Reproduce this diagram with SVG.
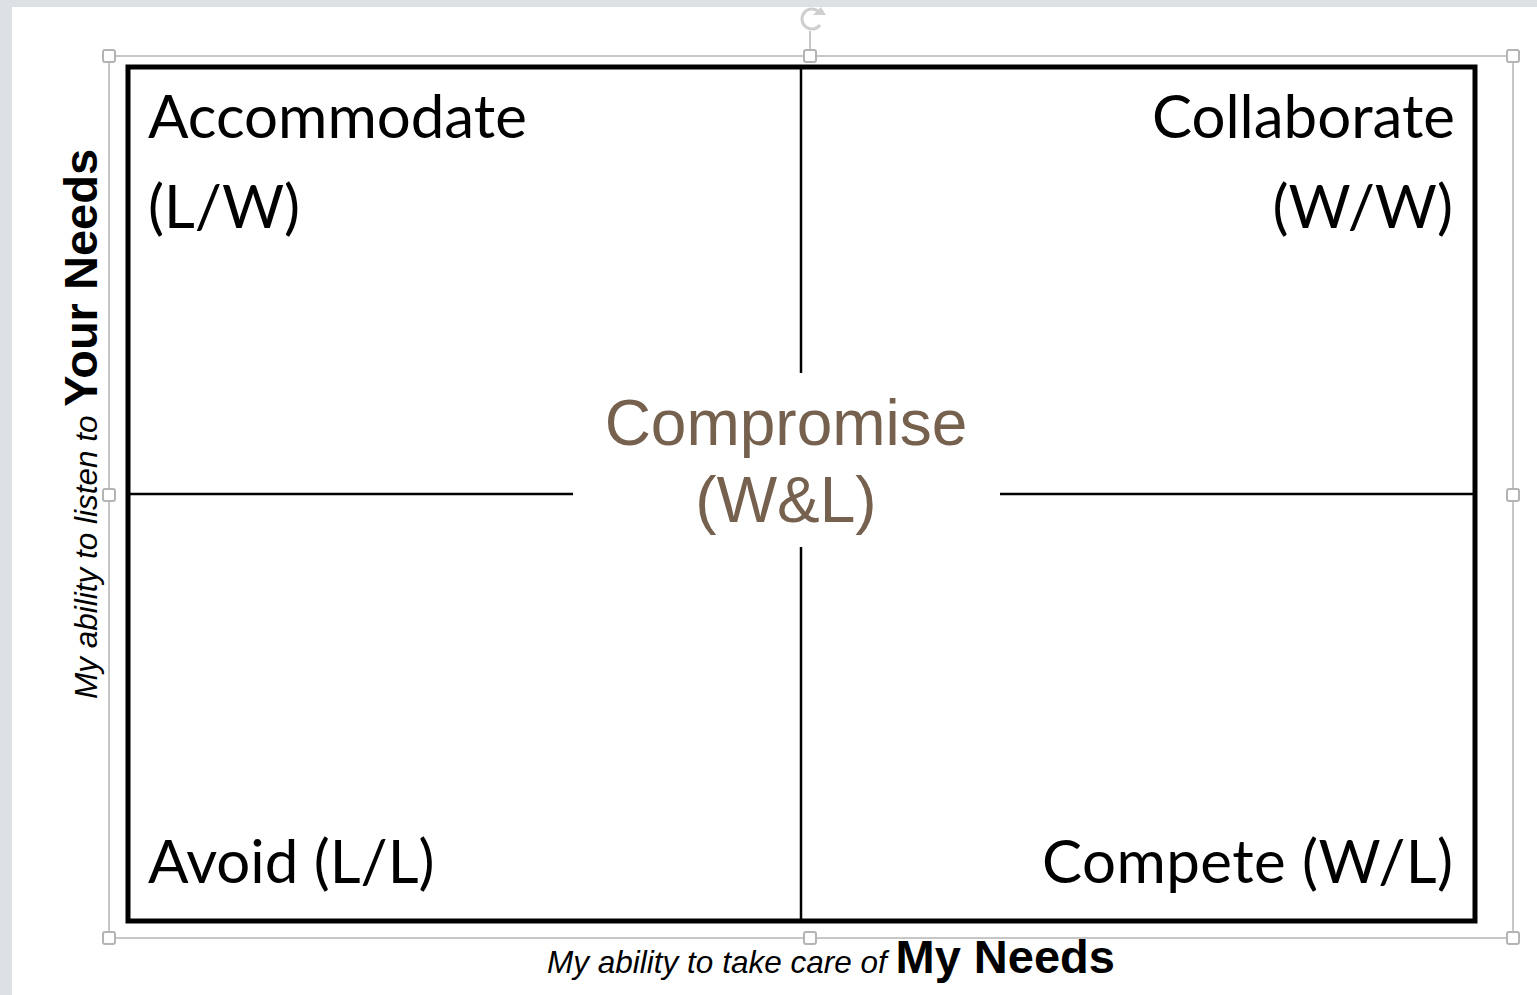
<svg xmlns="http://www.w3.org/2000/svg" width="1537" height="995" viewBox="0 0 1537 995">
  <style>
    .frame { fill: none; stroke: #b4b4b4; stroke-width: 1.5; }
    .handle { fill: #ffffff; stroke: #b4b4b4; stroke-width: 2; }
    .quad { font-family: Lato, "Open Sans", sans-serif; font-size: 60px; fill: #000000; }
    .center { font-family: "Liberation Sans", Arial, sans-serif; font-size: 64px; fill: #76614f; text-anchor: middle; }
    .axis { font-family: "Liberation Sans", Arial, sans-serif; fill: #000000; }
    .axis .it { font-style: italic; font-size: 31.5px; }
    .axis .bd { font-weight: bold; font-size: 47px; }
    .rule { stroke: #000000; stroke-width: 2.5; }
  </style>

  <!-- window background -->
  <rect x="0" y="0" width="1537" height="995" fill="#dde1e6"/>
  <rect x="12" y="7" width="1525" height="988" fill="#ffffff"/>

  <!-- selection frame with handles -->
  <g id="selection">
    <rect class="frame" x="109" y="56" width="1404" height="882"/>
    <line x1="810" y1="31" x2="810" y2="50" stroke="#b4b4b4" stroke-width="1.5"/>
    <path d="M818 11 A10 10 0 1 0 820 25" fill="none" stroke="#cfcfcf" stroke-width="3"/>
    <path d="M813 15 L826 15 L821 7 Z" fill="#cfcfcf"/>
    <rect class="handle" x="103" y="50" width="12" height="12" rx="2"/>
    <rect class="handle" x="804" y="50" width="12" height="12" rx="2"/>
    <rect class="handle" x="1507" y="50" width="12" height="12" rx="2"/>
    <rect class="handle" x="103" y="489" width="12" height="12" rx="2"/>
    <rect class="handle" x="1507" y="489" width="12" height="12" rx="2"/>
    <rect class="handle" x="103" y="932" width="12" height="12" rx="2"/>
    <rect class="handle" x="804" y="932" width="12" height="12" rx="2"/>
    <rect class="handle" x="1507" y="932" width="12" height="12" rx="2"/>
  </g>

  <!-- quadrant box and dividing lines -->
  <g id="grid">
    <rect x="128" y="67" width="1347" height="854" fill="none" stroke="#000000" stroke-width="5"/>
  </g>
  <g id="connectors">
    <line class="rule" x1="801" y1="67" x2="801" y2="373"/>
    <line class="rule" x1="801" y1="547" x2="801" y2="921"/>
    <line class="rule" x1="128" y1="494" x2="573" y2="494"/>
    <line class="rule" x1="1000" y1="494" x2="1475" y2="494"/>
  </g>

  <g id="accommodate">
    <text class="quad" x="148" y="138">Accommodate</text>
    <text class="quad" x="148" y="228">(L/W)</text>
  </g>
  <g id="collaborate">
    <text class="quad" x="1455" y="138" text-anchor="end">Collaborate</text>
    <text class="quad" x="1453" y="228" text-anchor="end">(W/W)</text>
  </g>
  <g id="avoid">
    <text class="quad" x="148" y="883">Avoid (L/L)</text>
  </g>
  <g id="compete">
    <text class="quad" x="1453" y="883" text-anchor="end" textLength="411" lengthAdjust="spacing">Compete (W/L)</text>
  </g>
  <g id="compromise">
    <text class="center" x="786" y="445">Compromise</text>
    <text class="center" x="786" y="522">(W&amp;L)</text>
  </g>

  <!-- axis labels -->
  <g id="x-axis">
    <text class="axis" x="831" y="973" text-anchor="middle"><tspan class="it">My ability to take care of </tspan><tspan class="bd">My Needs</tspan></text>
  </g>
  <g id="y-axis">
    <text class="axis" transform="translate(97 424) rotate(-90)" text-anchor="middle"><tspan class="it">My ability to listen to </tspan><tspan class="bd">Your Needs</tspan></text>
  </g>
</svg>
